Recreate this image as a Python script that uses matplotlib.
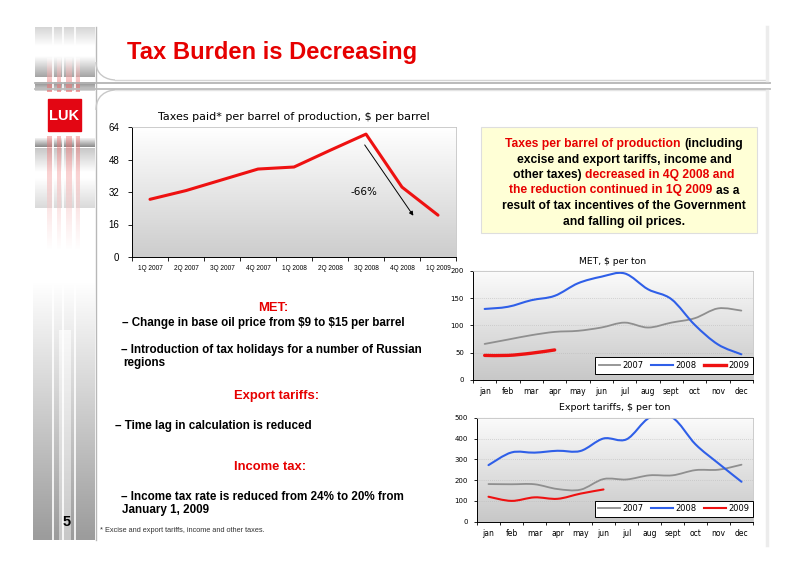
"""
Lukoil slide: Tax Burden is Decreasing.
Run: python plot.py
"""

import numpy as np
import matplotlib.pyplot as plt
from matplotlib.path import Path
from matplotlib.patches import PathPatch, Rectangle
from matplotlib.lines import Line2D
from matplotlib.colors import LinearSegmentedColormap

# --- data -------------------------------------------------------------
quarters = ["1Q 2007", "2Q 2007", "3Q 2007", "4Q 2007", "1Q 2008",
            "2Q 2008", "3Q 2008", "4Q 2008", "1Q 2009"]
taxes_per_bbl = [28.4, 32.7, 38.0, 43.3, 44.3, 52.5, 60.5, 34.4, 20.6]

months = ["jan", "feb", "mar", "apr", "may", "jun",
          "jul", "aug", "sept", "oct", "nov", "dec"]
met_2007 = [66, 74, 82, 88, 90, 96, 105, 96, 105, 113, 131, 127]
met_2008 = [130, 134, 146, 154, 177, 189, 195, 166, 148, 101, 65, 47]
met_2009 = [45, 45, 49, 55]
exp_2007 = [181, 180, 180, 157, 154, 205, 203, 223, 223, 248, 250, 274]
exp_2008 = [272, 333, 332, 341, 340, 400, 396, 500, 500, 372, 280, 192]
exp_2009 = [120, 100, 117, 110, 135, 155]
years = ["2007", "2008", "2009"]

RED = "#e60000"
LINE_RED = "#ee1111"
BLUE = "#2f5fe8"
GRAY = "#8f8f8f"
BOLD = dict(family="Liberation Sans", fontweight="bold")

fig = plt.figure(figsize=(8, 5.66), dpi=100)
bg = fig.add_axes([0, 0, 1, 1], zorder=-5)
bg.set_xlim(0, 800)
bg.set_ylim(566, 0)
bg.axis("off")
renderer = fig.canvas.get_renderer()


def grad_rect(x0, x1, y0, y1, c0, c1, horizontal=False, z=0, alpha=1.0):
    g = np.linspace(0, 1, 64)
    g = g.reshape(1, -1) if horizontal else g.reshape(-1, 1)
    cmap = LinearSegmentedColormap.from_list("", [c0, c1])
    bg.imshow(g, cmap=cmap, extent=[x0, x1, y1, y0], aspect="auto",
              zorder=z, interpolation="bilinear", alpha=alpha)


def fit(t, width):
    w = t.get_window_extent(renderer).width
    t.set_fontsize(t.get_fontsize() * width / w)
    return t.get_fontsize()


def smooth_path(xs, ys):
    pts = np.column_stack([xs, ys]).astype(float)
    n = len(pts)
    verts, codes = [pts[0]], [Path.MOVETO]
    for i in range(n - 1):
        p0, p1 = pts[max(i - 1, 0)], pts[i]
        p2, p3 = pts[i + 1], pts[min(i + 2, n - 1)]
        verts += [p1 + (p2 - p0) / 6, p2 - (p3 - p1) / 6, p2]
        codes += [Path.CURVE4] * 3
    return Path(verts, codes)


# --- slide decoration ---------------------------------------------------
grad_rect(35, 95, 27, 46, "#d6d6d6", "#ffffff")
grad_rect(35, 95, 56, 77, "#ffffff", "#a4a4a4")
grad_rect(35, 95, 82, 91, "#8c8c8c", "#d8d8d8")
grad_rect(35, 95, 138, 147, "#f4f4f4", "#8a8a8a")
grad_rect(35, 95, 148, 172, "#c8c8c8", "#ffffff")
grad_rect(35, 95, 178, 208, "#ffffff", "#dadada")
grad_rect(33, 95, 280, 540, "#ffffff", "#9c9c9c")
grad_rect(59, 71, 330, 540, "#ffffff", "#dcdcdc", z=1, alpha=0.7)
for x0, x1 in [(47, 52), (57, 61), (66, 72), (75, 80)]:
    grad_rect(x0, x1, 58, 92, "#ffffff", "#e65858", z=1, alpha=0.55)
    grad_rect(x0, x1, 136, 250, "#ec6a6a", "#ffffff", z=1, alpha=0.45)
for x in (53, 62.5, 74.5):
    bg.plot([x, x], [27, 540], color="white", lw=1.2, zorder=2)
bg.add_patch(Rectangle((48, 99), 33, 32, color="#e30613", zorder=3))
bg.text(64.5, 115.5, "LUK", color="white", fontsize=10.5, ha="center",
        va="center", zorder=4, **BOLD)
bg.text(67, 522, "5", fontsize=10.5, ha="center", va="center", zorder=4,
        **BOLD)

# panels
bg.plot([96, 96], [27, 540], color="#b8b8b8", lw=1, zorder=2)
corner = Path([(96, 62), (96, 80), (115, 80), (115, 80)],
              [Path.MOVETO, Path.CURVE4, Path.CURVE4, Path.CURVE4])
bg.add_patch(PathPatch(corner, fill=False, ec="#c8c8c8", lw=1, zorder=2))
corner2 = Path([(96, 110), (96, 90), (115, 90), (115, 90)],
               [Path.MOVETO, Path.CURVE4, Path.CURVE4, Path.CURVE4])
bg.add_patch(PathPatch(corner2, fill=False, ec="#c8c8c8", lw=1, zorder=2))
bg.plot([115, 767], [80, 80], color="#d4d4d4", lw=1)
bg.plot([115, 767], [90, 90], color="#e4e4e4", lw=1)
bg.plot([35, 770], [82.5, 82.5], color="#b4b4b4", lw=1.3)
bg.plot([35, 770], [88.5, 88.5], color="#bcbcbc", lw=1.3)
bg.plot([767, 767], [27, 80], color="#ececec", lw=2.5)
bg.plot([767, 767], [91, 545], color="#ececec", lw=2.5)

title = bg.text(127, 52, "Tax Burden is Decreasing", color=RED, fontsize=18,
                ha="left", va="center", **BOLD)
fit(title, 290)

# --- yellow note ----------------------------------------------------------
bg.add_patch(Rectangle((481, 127), 276, 106, fc="#ffffd6", ec="#dedede",
                       lw=0.8, zorder=1))
note = [
    [("Taxes per barrel of production", RED), ("(including", "black")],
    [("excise and export tariffs, income and", "black")],
    [("other taxes)", "black"), ("decreased in 4Q 2008 and", RED)],
    [("the reduction continued in 1Q 2009", RED), ("as a", "black")],
    [("result of tax incentives of the Government", "black")],
    [("and falling oil prices.", "black")],
]
probe = bg.text(0, 0, note[4][0][0], fontsize=8, **BOLD)
note_size = fit(probe, 243)
probe.remove()
a = bg.text(0, 0, "a a", fontsize=note_size, **BOLD)
b = bg.text(0, 0, "aa", fontsize=note_size, **BOLD)
space_w = a.get_window_extent(renderer).width - b.get_window_extent(renderer).width
a.remove()
b.remove()
for i, parts in enumerate(note):
    y = 144 + i * 15.5
    texts = [bg.text(0, y, s, color=c, fontsize=note_size, ha="left",
                     va="center", zorder=3, **BOLD) for s, c in parts]
    widths = [t.get_window_extent(renderer).width for t in texts]
    x = 624 - (sum(widths) + space_w * (len(texts) - 1)) / 2
    for t, w in zip(texts, widths):
        t.set_x(x)
        x += w + space_w

# --- left bullet text -------------------------------------------------------
b1 = bg.text(122, 323, r"– Change in base oil price from \$9 to \$15 per barrel",
             fontsize=8, va="center", **BOLD)
bsize = fit(b1, 283)
bullets = [
    (121, 350, "– Introduction of tax holidays for a number of Russian"),
    (123, 363, "regions"),
    (115, 426, "– Time lag in calculation is reduced"),
    (121, 497, "– Income tax rate is reduced from 24% to 20% from"),
    (122, 510, "January 1, 2009"),
]
for x, y, s in bullets:
    bg.text(x, y, s, fontsize=bsize, va="center", **BOLD)
for x, y, s in [(273, 308, "MET:"), (277, 396, "Export tariffs:"),
                (270, 467, "Income tax:")]:
    bg.text(x, y, s, fontsize=bsize * 1.12, color=RED, ha="center",
            va="center", **BOLD)
bg.text(100, 531, "* Excise and export tariffs, income and other taxes.",
        fontsize=5.3, color="#333333", va="center", family="Liberation Sans")

# --- main chart -------------------------------------------------------------
grad_rect(132, 456, 127, 257, "#ffffff", "#cdcdcd")
ax = fig.add_axes([132 / 800, 1 - 257 / 566, 324 / 800, 130 / 566])
ax.patch.set_alpha(0)
xq = np.arange(len(quarters))
ax.plot(xq, taxes_per_bbl, color=LINE_RED, lw=2.2, solid_capstyle="round")
ax.set_xlim(-0.5, len(quarters) - 0.5)
ax.set_ylim(0, 64)
ax.set_yticks([0, 16, 32, 48, 64])
ax.set_xticks(xq)
ax.set_xticklabels(quarters, fontsize=4.7, family="Liberation Sans")
ax.set_xticks(np.arange(len(quarters) + 1) - 0.5, minor=True)
ax.tick_params(axis="x", which="major", length=0, pad=6)
ax.tick_params(axis="x", which="minor", length=3, width=0.6)
ax.tick_params(axis="y", length=3, width=0.6, labelsize=7, pad=6)
for lab in ax.get_yticklabels():
    lab.set_family("Liberation Sans")
for side in ("top", "right"):
    ax.spines[side].set_color("#c4c4c4")
    ax.spines[side].set_linewidth(0.6)
for side in ("left", "bottom"):
    ax.spines[side].set_linewidth(0.7)
ax.annotate("", xy=(7.36, 19.2), xytext=(5.92, 56.3),
            arrowprops=dict(arrowstyle="-|>", color="black", lw=0.7,
                            mutation_scale=6))
ax.text(5.95, 32.2, "-66%", fontsize=7.5, ha="center", va="center")
bg.text(294, 117, "Taxes paid* per barrel of production, $ per barrel",
        fontsize=8.0, ha="center", va="center")


# --- small monthly charts -----------------------------------------------------
def monthly(rect_px, series, widths, ymax, step, title, title_y, title_size,
            leg_y):
    x0, x1, y0, y1 = rect_px
    grad_rect(x0, x1, y0, y1, "#fbfbfb", "#c8c8c8")
    axm = fig.add_axes([x0 / 800, 1 - y1 / 566, (x1 - x0) / 800,
                        (y1 - y0) / 566])
    axm.patch.set_alpha(0)
    colors = [GRAY, BLUE, LINE_RED]
    handles = []
    for vals, c, w, lab in zip(series, colors, widths, years):
        xm = np.arange(len(vals))
        axm.add_patch(PathPatch(smooth_path(xm, vals), fill=False, ec=c,
                                lw=w, capstyle="round", joinstyle="round"))
        handles.append(Line2D([], [], color=c, lw=w, label=lab))
    axm.set_xlim(-0.5, 11.5)
    axm.set_ylim(0, ymax)
    axm.set_yticks(np.arange(0, ymax + 1, step))
    for v in np.arange(step, ymax, step):
        axm.axhline(v, color="#b8b8b8", lw=0.5, ls=(0, (1, 2)), zorder=0)
    axm.set_xticks(np.arange(12))
    axm.set_xticklabels(months, fontsize=5.5)
    axm.set_xticks(np.arange(13) - 0.5, minor=True)
    axm.tick_params(axis="x", which="major", length=0, pad=5)
    axm.tick_params(axis="x", which="minor", length=2.5, width=0.6)
    axm.tick_params(axis="y", length=2.5, width=0.6, labelsize=5, pad=4)
    for side in ("top", "right"):
        axm.spines[side].set_color("#c4c4c4")
        axm.spines[side].set_linewidth(0.6)
    for side in ("left", "bottom"):
        axm.spines[side].set_linewidth(0.7)
    leg = axm.legend(handles=handles, ncol=3, loc="lower right",
                     bbox_to_anchor=(1.0, leg_y), borderaxespad=0,
                     fontsize=6.0, handlelength=2.6, columnspacing=0.9,
                     handletextpad=0.3, borderpad=0.45, fancybox=False,
                     framealpha=1, edgecolor="black")
    leg.get_frame().set_linewidth(0.7)
    bg.text((x0 + x1) / 2, title_y, title, fontsize=title_size, ha="center",
            va="center")


monthly((473, 753, 270.7, 380), [met_2007, met_2008, met_2009],
        [1.3, 1.5, 2.4], 200, 50, "MET, $ per ton", 262, 6.6, 0.055)
monthly((477, 753, 417.7, 521.7), [exp_2007, exp_2008, exp_2009],
        [1.3, 1.5, 1.5], 500, 100, "Export tariffs, $ per ton", 408, 6.8,
        0.045)

fig.savefig("out.png", dpi=100)
